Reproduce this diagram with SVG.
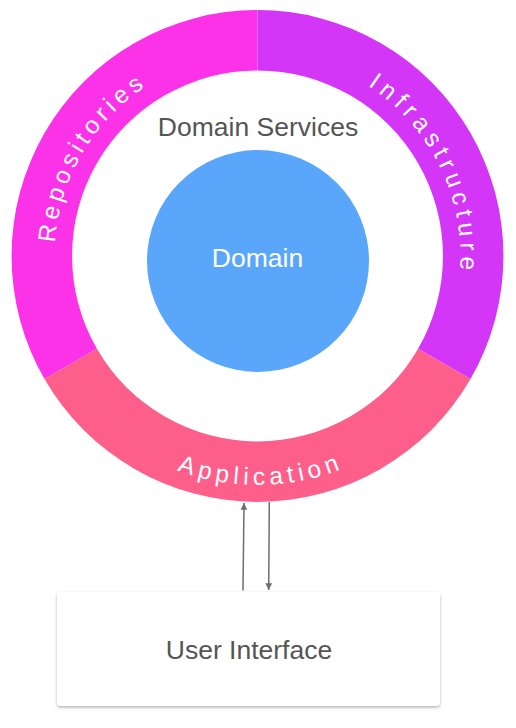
<svg xmlns="http://www.w3.org/2000/svg" xmlns:xlink="http://www.w3.org/1999/xlink" width="516" height="728" viewBox="0 0 516 728">
<style>
.lbl{font-family:"Liberation Sans","Inter",Arial,sans-serif;font-size:26.5px;text-anchor:middle}
.ring{font-family:"Liberation Sans","Inter",Arial,sans-serif;font-size:24.5px;fill:#ffffff}
.conn{stroke:#6e6e6e;stroke-width:1.5;fill:none}
</style>
<defs>
<path id="pRepo" d="M 81.7 357.5 A 203 203 0 0 1 257.5 53"/>
<path id="pInfra" d="M 257.5 53 A 203 203 0 0 1 433.3 357.5"/>
<path id="pApp" d="M 59.2 370.5 A 229 229 0 0 0 455.8 370.5"/>
<marker id="ah" viewBox="0 0 10 10" refX="10" refY="5" markerWidth="4.5" markerHeight="4.5" orient="auto" markerUnits="strokeWidth">
<path d="M0 0 L10 5 L0 10 Z" fill="#6e6e6e"/>
</marker>
<filter id="sh" x="-5%" y="-10%" width="110%" height="125%">
<feDropShadow dx="0" dy="1.5" stdDeviation="1.5" flood-color="#000" flood-opacity="0.3"/>
</filter>
</defs>
<g id="repositories">
<path d="M 44.5 379 A 246 246 0 0 1 257.5 10 L 257.5 70.5 A 185.5 185.5 0 0 0 96.9 348.75 Z" fill="#FC32E9"/>
<text class="ring" letter-spacing="4.5"><textPath xlink:href="#pRepo" href="#pRepo" startOffset="50.5%" text-anchor="middle">Repositories</textPath></text>
</g>
<g id="infrastructure">
<path d="M 257.5 10 A 246 246 0 0 1 470.5 379 L 418.1 348.75 A 185.5 185.5 0 0 0 257.5 70.5 Z" fill="#D336F7"/>
<text class="ring" letter-spacing="5.5"><textPath xlink:href="#pInfra" href="#pInfra" startOffset="53.5%" text-anchor="middle">Infrastructure</textPath></text>
</g>
<g id="application">
<path d="M 470.5 379 A 246 246 0 0 1 44.5 379 L 96.9 348.75 A 185.5 185.5 0 0 0 418.1 348.75 Z" fill="#FE5E8A"/>
<text class="ring" letter-spacing="4.7"><textPath xlink:href="#pApp" href="#pApp" startOffset="50.7%" text-anchor="middle">Application</textPath></text>
</g>
<g id="domain-services">
<text class="lbl" x="258" y="136" fill="#555555">Domain Services</text>
</g>
<g id="domain">
<circle cx="258" cy="261" r="111" fill="#5AA6FB"/>
<text class="lbl" x="257.5" y="266.5" fill="#ffffff">Domain</text>
</g>
<g id="user-interface">
<rect x="57" y="592" width="383" height="114" rx="4" fill="#ffffff" filter="url(#sh)"/>
<text class="lbl" x="249" y="659" fill="#555555">User Interface</text>
</g>
<g id="connectors">
<line class="conn" x1="243" y1="590.5" x2="244" y2="503" marker-end="url(#ah)"/>
<line class="conn" x1="269.3" y1="502" x2="268.7" y2="590" marker-end="url(#ah)"/>
</g>
</svg>
